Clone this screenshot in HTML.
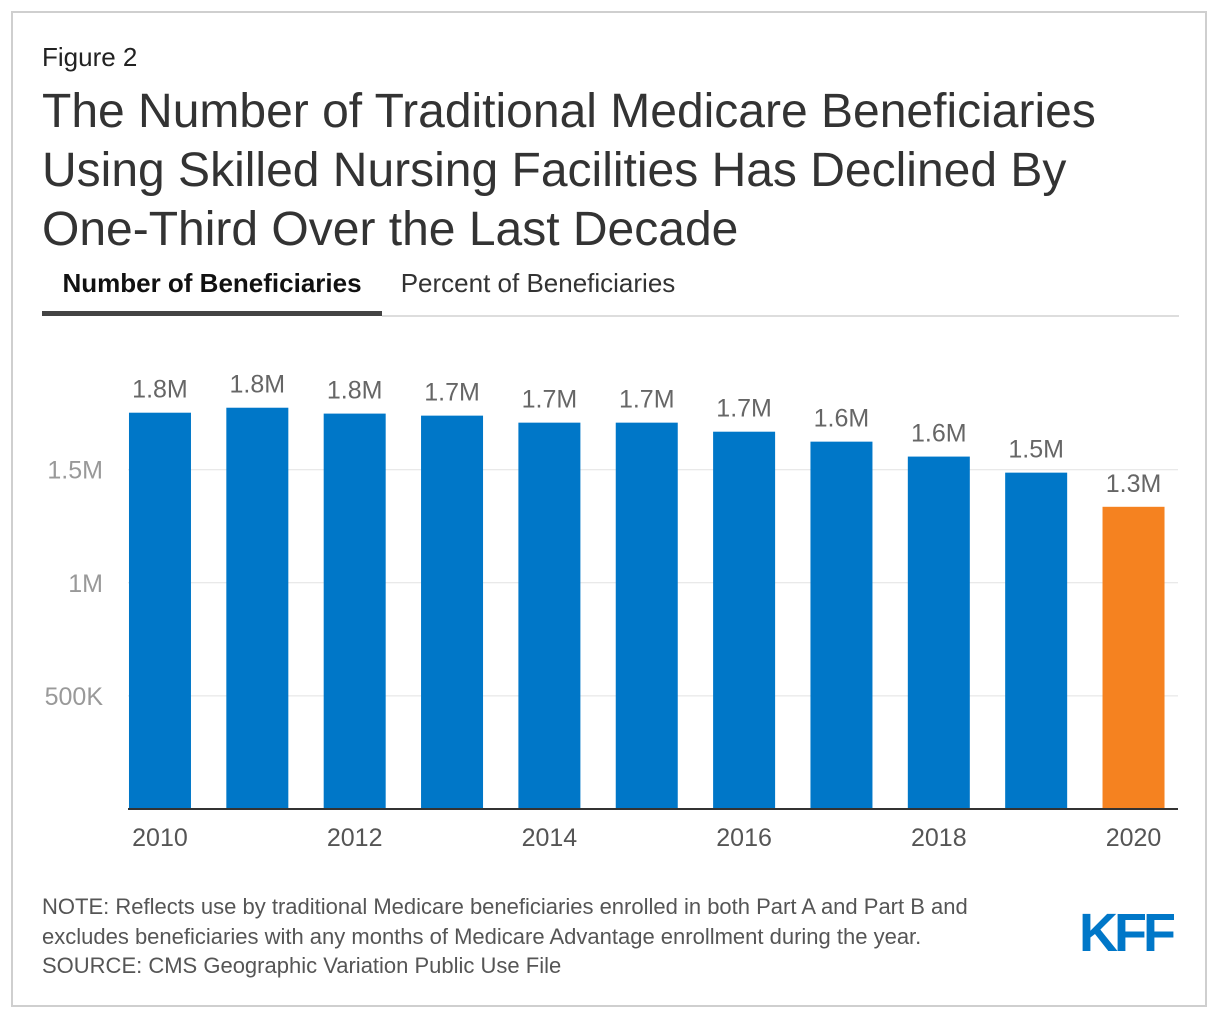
<!DOCTYPE html>
<html><head><meta charset="utf-8"><style>
body{margin:0;width:1220px;height:1020px;background:#fff;font-family:"Liberation Sans",Arial,sans-serif;position:relative;overflow:hidden}
.frame{position:absolute;left:11px;top:11px;width:1196px;height:996px;border:2px solid #cfcfcf;box-sizing:border-box}
.abs{position:absolute}
</style></head><body>
<div class="frame"></div>
<div class="abs" style="left:42px;top:42px;font-size:26px;color:#222">Figure 2</div>
<div class="abs" style="left:42px;top:82px;font-size:48px;line-height:59px;color:#333;width:1110px">The Number of Traditional Medicare Beneficiaries Using Skilled Nursing Facilities Has Declined By One-Third Over the Last Decade</div>
<div class="abs" style="left:42px;top:266px;width:340px;height:50px;border-bottom:5px solid #444;box-sizing:border-box;font-size:26px;font-weight:bold;color:#111;text-align:center;line-height:34px">Number of Beneficiaries</div>
<div class="abs" style="left:382px;top:266px;width:312px;font-size:26px;color:#333;text-align:center;line-height:34px">Percent of Beneficiaries</div>
<div class="abs" style="left:382px;top:315px;width:797px;height:2px;background:#ddd"></div>
<svg class="abs" style="left:0;top:0" width="1220" height="1020" id="chart"></svg>
<div class="abs" style="left:42px;top:892px;font-size:22px;line-height:29.5px;color:#555">NOTE: Reflects use by traditional Medicare beneficiaries enrolled in both Part A and Part B and<br>excludes beneficiaries with any months of Medicare Advantage enrollment during the year.<br>SOURCE: CMS Geographic Variation Public Use File</div>
<div class="abs" style="left:1079px;top:902px;font-size:54px;font-weight:900;color:#0077c8;letter-spacing:-4px">KFF</div>
<script>
const years=[2010,2011,2012,2013,2014,2015,2016,2017,2018,2019,2020];
const values=[1752,1774,1748,1739,1708,1708,1668,1624,1558,1487,1336];
const valueLabels=["1.8M","1.8M","1.8M","1.7M","1.7M","1.7M","1.7M","1.6M","1.6M","1.5M","1.3M"];
const ticks=[500,1000,1500];
const tickLabels=["500K","1M","1.5M"];
const svg=document.getElementById('chart');const NS='http://www.w3.org/2000/svg';
const x0=111.3,x1=1182.2,y0=809,pk=0.2262;
const y=v=>y0-v*pk;const pitch=(x1-x0)/years.length;const bw=62;
const cx=i=>x0+pitch*(i+0.5);
function el(t,a,txt){const e=document.createElementNS(NS,t);for(const k in a)e.setAttribute(k,a[k]);if(txt!=null)e.textContent=txt;svg.appendChild(e);return e;}
ticks.forEach((t,i)=>{
const g=el('line',{x1:128,x2:1178,y1:y(t),y2:y(t),stroke:'#e2e2e2','stroke-width':1});


const l=el('text',{x:103,y:y(t)+9,'text-anchor':'end','font-size':25,fill:'#999','font-family':'Liberation Sans'},tickLabels[i]);


});
values.forEach((v,i)=>{
const r=el('rect',{x:cx(i)-bw/2,y:y(v),width:bw,height:y0-y(v),fill:i==values.length-1?'#f58220':'#0077c8'});


const t=el('text',{x:cx(i),y:y(v)-15,'text-anchor':'middle','font-size':25,fill:'#666','font-family':'Liberation Sans'},valueLabels[i]);


if(i%2==0){const xl=el('text',{x:cx(i),y:846,'text-anchor':'middle','font-size':25,fill:'#555','font-family':'Liberation Sans'},years[i]);

}
});
const ax=el('line',{x1:128,x2:1178,y1:y0,y2:y0,stroke:'#333','stroke-width':2});


</script>
</body></html>
